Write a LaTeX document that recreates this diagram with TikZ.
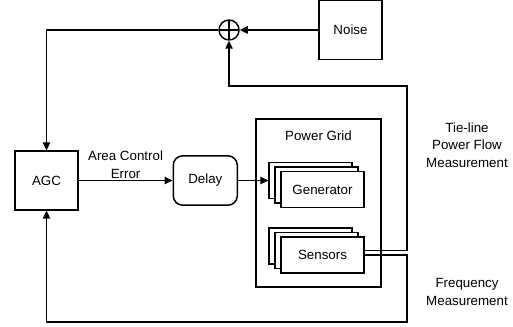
\documentclass[tikz,border=0pt]{standalone}
\usepackage{fontspec}
\setmainfont{Liberation Sans}
\usetikzlibrary{positioning,arrows.meta,calc,shadows}

\begin{document}
\begin{tikzpicture}[
  x=0.75pt, y=-0.75pt,
  node distance=20pt and 20pt,
  every node/.style={font=\fontsize{10}{13}\selectfont},
  block/.style={draw, line width=1.1pt, minimum width=47pt, minimum height=44pt, inner sep=2pt},
  rblock/.style={block, rounded corners=7pt, minimum width=48pt, minimum height=37pt},
  stackbox/.style={draw, fill=white, line width=1.1pt, minimum width=62pt, minimum height=27pt,
    copy shadow={shadow xshift=-9pt, shadow yshift=6.75pt, draw=black, fill=white, opacity=1, line width=1.1pt},
    copy shadow={shadow xshift=-4.5pt, shadow yshift=3.4pt, draw=black, fill=white, opacity=1, line width=1.1pt}},
  gridbox/.style={draw, line width=1.1pt, minimum width=93.75pt, minimum height=126pt},
  sumnode/.style={draw, circle, line width=1.1pt, minimum size=15pt, inner sep=0pt,
    path picture={\draw[line width=1.1pt] (path picture bounding box.north) -- (path picture bounding box.south)
      (path picture bounding box.west) -- (path picture bounding box.east);}},
  lbl/.style={align=center, inner sep=1pt},
  arrow/.style={-{Triangle[length=6pt,width=5.5pt]}, line width=1.1pt}
]
\useasboundingbox (0,0) rectangle (513,327);

% blocks
\node[block] (agc) at (46.5,180.5) {AGC};
\node[rblock, right=70.5pt of agc] (delay) {Delay};
\node[gridbox] (grid) at (318.5,203) {};
\node[inner sep=0pt, below=9.5pt of grid.north] (gridlbl) {Power Grid};
\node[stackbox] (gen) at (322.5,189.5) {Generator};
\node[stackbox, below=21pt of gen] (sensors) {Sensors};
\node[block] (noise) at (350.5,30) {Noise};
\node[sumnode, left=59pt of noise] (sum) {};

% side labels
\node[lbl] (tielbl) at (467,145) {Tie-line\\Power Flow\\Measurement};
\node[lbl] (freqlbl) at (467,292) {Frequency\\Measurement};

\coordinate (genin) at ($(gen.west)+(-9pt,6.75pt)$);
\coordinate (tiecorner) at (407,86);
\coordinate (freqcorner) at (407,322);

% signals
\draw[arrow] (agc) -- node[lbl, above] (acelbl) {Area Control\\Error} (delay);
\draw[arrow] (delay.east) -- (genin);
\draw[arrow] (noise) -- (sum);
\draw[arrow] (sum) -| (agc);
\draw[arrow] ([yshift=3.4pt]sensors.east) -| (tiecorner) -| (sum);
\draw[arrow] (sensors.east) -| (freqcorner) -| (agc);
\end{tikzpicture}
\end{document}
